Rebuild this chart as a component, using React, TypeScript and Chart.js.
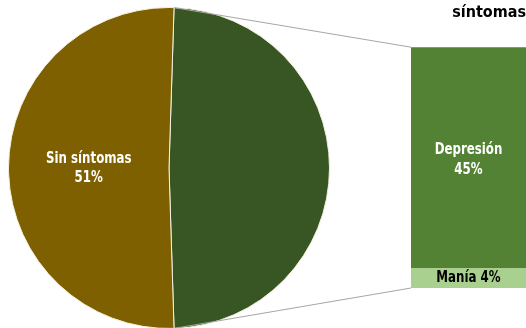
import React, { useEffect, useRef } from 'react';
import { Chart, registerables } from 'chart.js';

Chart.register(...registerables);

// ---- data ----
const pieLabels = ['Con síntomas', 'Sin síntomas'];
const pieValues = [49, 51];
const pieColors = ['#375623', '#7F6000'];

const barLabels = ['Manía', 'Depresión'];
const barValues = [4, 45];
const barColors = ['#A9D08E', '#548235'];

const titleText = 'síntomas';

const FONT = '"Liberation Sans Narrow", "DejaVu Sans Condensed", "Arial Narrow", sans-serif';
const SQUEEZE = 0.82;

function narrowText(ctx: CanvasRenderingContext2D, text: string, x: number, y: number) {
  const w = ctx.measureText(text).width;
  ctx.fillText(text, x, y, w * SQUEEZE);
}

export default function App() {
  const pieRef = useRef<HTMLCanvasElement>(null);
  const barRef = useRef<HTMLCanvasElement>(null);

  useEffect(() => {
    document.body.style.margin = '0';
    const total = pieValues.reduce((a, b) => a + b, 0);

    const pieLabelPlugin = {
      id: 'pieLabels',
      afterDatasetsDraw(chart: any) {
        const ctx = chart.ctx;
        const meta = chart.getDatasetMeta(0);
        const arc = meta.data[1];
        const pos = arc.tooltipPosition();
        ctx.save();
        ctx.fillStyle = '#FFFFFF';
        ctx.font = `bold 16px ${FONT}`;
        ctx.textAlign = 'center';
        ctx.textBaseline = 'middle';
        const pct = Math.round((pieValues[1] / total) * 100) + '%';
        narrowText(ctx, pieLabels[1], pos.x, pos.y - 9);
        narrowText(ctx, pct, pos.x, pos.y + 10);
        ctx.restore();
      },
    };

    const pie = new Chart(pieRef.current as HTMLCanvasElement, {
      type: 'pie',
      data: {
        labels: pieLabels,
        datasets: [
          {
            data: pieValues,
            backgroundColor: pieColors,
            borderColor: '#F4F1DE',
            borderWidth: 1,
          },
        ],
      },
      options: {
        responsive: false,
        animation: false,
        rotation: 90 - (pieValues[0] / total) * 180,
        layout: { padding: { left: 8, right: 8, top: 7, bottom: 1 } },
        plugins: { legend: { display: false }, tooltip: { enabled: false } },
      },
      plugins: [pieLabelPlugin],
    } as any);

    const connectorPlugin = {
      id: 'connectors',
      beforeDatasetsDraw(chart: any) {
        const arc: any = pie.getDatasetMeta(0).data[0];
        const { x, y, outerRadius, startAngle, endAngle } = arc.getProps(
          ['x', 'y', 'outerRadius', 'startAngle', 'endAngle'],
          true
        );
        const area = chart.chartArea;
        const ctx = chart.ctx;
        ctx.save();
        ctx.strokeStyle = '#A6A6A6';
        ctx.lineWidth = 1;
        ctx.beginPath();
        ctx.moveTo(x + outerRadius * Math.cos(startAngle), y + outerRadius * Math.sin(startAngle));
        ctx.lineTo(area.left, area.top);
        ctx.moveTo(x + outerRadius * Math.cos(endAngle), y + outerRadius * Math.sin(endAngle));
        ctx.lineTo(area.left, area.bottom);
        ctx.stroke();
        ctx.restore();
      },
      afterDatasetsDraw(chart: any) {
        const ctx = chart.ctx;
        ctx.save();
        ctx.textAlign = 'center';
        ctx.textBaseline = 'middle';
        ctx.font = `bold 16px ${FONT}`;
        // Manía
        const m: any = chart.getDatasetMeta(0).data[0];
        const mp = m.getCenterPoint();
        ctx.fillStyle = '#000000';
        narrowText(ctx, `${barLabels[0]} ${Math.round((barValues[0] / total) * 100)}%`, mp.x, mp.y);
        // Depresión
        const d: any = chart.getDatasetMeta(1).data[0];
        const dp = d.getCenterPoint();
        ctx.fillStyle = '#FFFFFF';
        narrowText(ctx, barLabels[1], dp.x, dp.y - 8);
        narrowText(ctx, `${Math.round((barValues[1] / total) * 100)}%`, dp.x, dp.y + 12);
        ctx.restore();
      },
    };

    const bar = new Chart(barRef.current as HTMLCanvasElement, {
      type: 'bar',
      data: {
        labels: ['Con síntomas'],
        datasets: barLabels.map((l, i) => ({
          label: l,
          data: [barValues[i]],
          backgroundColor: barColors[i],
          barPercentage: 1,
          categoryPercentage: 1,
          borderWidth: 0,
        })),
      },
      options: {
        responsive: false,
        animation: false,
        layout: { padding: { left: 411, right: 0, top: 0, bottom: 40 } },
        scales: {
          x: { stacked: true, display: false },
          y: { stacked: true, display: false, min: 0, max: barValues.reduce((a, b) => a + b, 0) },
        },
        plugins: {
          legend: { display: false },
          tooltip: { enabled: false },
          title: {
            display: true,
            text: titleText,
            align: 'end',
            color: '#000000',
            font: { family: FONT, size: 16, weight: 'bold' },
            padding: { top: 3, bottom: 25 },
          },
        },
      },
      plugins: [connectorPlugin],
    } as any);

    return () => {
      bar.destroy();
      pie.destroy();
    };
  }, []);

  return (
    <div style={{ position: 'relative', width: 526, height: 328, overflow: 'hidden', background: '#FFFFFF' }}>
      <canvas
        ref={pieRef}
        width={338}
        height={330}
        style={{ position: 'absolute', left: 0, top: 0, width: 338, height: 330 }}
      />
      <canvas
        ref={barRef}
        width={526}
        height={328}
        style={{ position: 'absolute', left: 0, top: 0, width: 526, height: 328 }}
      />
    </div>
  );
}
